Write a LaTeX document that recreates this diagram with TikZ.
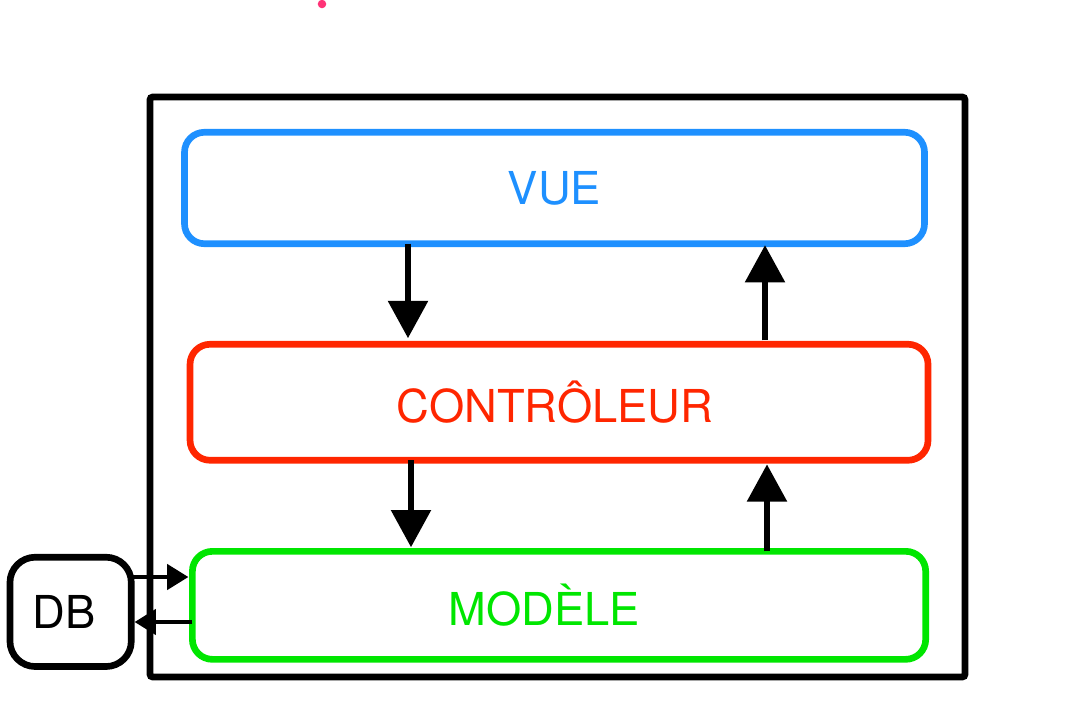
\documentclass[tikz,border=0pt]{standalone}
\usepackage{fontspec}
\setmainfont{TeX Gyre Heros}
\usepackage{tikz}
\usetikzlibrary{arrows.meta, positioning}
\definecolor{vueblue}{RGB}{30,144,255}
\definecolor{ctrlred}{RGB}{255,38,0}
\definecolor{modgreen}{RGB}{0,230,0}
\definecolor{dotpink}{RGB}{255,51,119}
\tikzset{x=0.75pt, y=-0.75pt,
node distance=70pt,
layer/.style={draw=#1, text=#1, line width=5pt, outer sep=0pt,
  rounded corners=15pt, font=\fontsize{34}{40}\selectfont},
frame/.style={line width=5pt, rounded corners=2pt},
big/.style={-{Triangle[length=28pt,width=29pt]}, line width=5pt},
small/.style={-{Triangle[length=16pt,width=19pt]}, line width=2.8pt}}

\begin{document}
\begin{tikzpicture}
\useasboundingbox (0,0) rectangle (1076,726);
%\fill[red!10] (0,0) rectangle (1076,726);
\fill[dotpink] (322,4) circle (3.2pt);
\draw[frame] (150,97) rectangle (965,677);
\node[layer=vueblue, minimum width=555pt, minimum height=83.6pt] (vue) at (554.5,188) {VUE};
\node[layer=ctrlred, minimum width=553.5pt, minimum height=87pt, below=75.4pt of vue, xshift=3.4pt] (ctrl) {CONTRÔLEUR\kern6pt};
\node[layer=modgreen, minimum width=550pt, minimum height=81pt, below=68.3pt of ctrl] (mod) {MODÈLE\kern22pt};
\node[layer=black, minimum width=91pt, minimum height=82pt, rounded corners=19pt,
  font=\fontsize{34}{40}\selectfont, left=45.8pt of mod, yshift=-4.9pt] (db) {DB\kern10pt};
\coordinate (xl) at (408,0);
\coordinate (xr) at (765,0);
\coordinate (xl2) at (411,0);
\coordinate (xr2) at (767,0);
\coordinate (yin) at (0,577);
\coordinate (yout) at (0,622);
\draw
(vue.south -| xl) edge[big, shorten >=4.5pt] (ctrl.north -| xl)
(ctrl.north -| xr) edge[big, shorten <=3pt, shorten >=1pt] (vue.south -| xr)
(ctrl.south -| xl2) edge[big, shorten >=3pt] (mod.north -| xl2)
(mod.north -| xr2) edge[big, shorten >=3pt] (ctrl.south -| xr2)
(db.east |- yin) edge[small, shorten >=3pt] (mod.west |- yin)
(mod.west |- yout) edge[small, shorten >=2.5pt] (db.east |- yout)
;
\end{tikzpicture}
\end{document}
